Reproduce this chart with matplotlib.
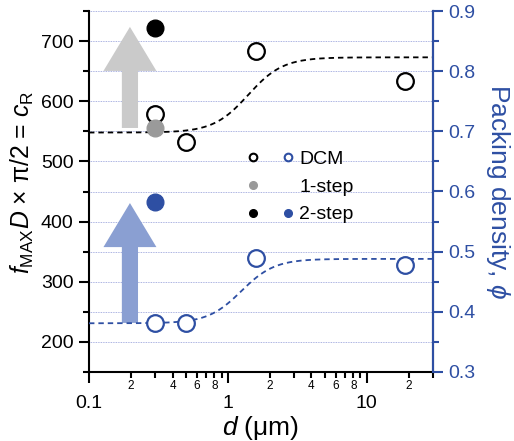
import numpy as np
import matplotlib
matplotlib.use("Agg")
import matplotlib.pyplot as plt
from matplotlib.lines import Line2D
from matplotlib.legend_handler import HandlerTuple
from matplotlib.patches import FancyArrow
from matplotlib.ticker import FixedLocator, MultipleLocator, FuncFormatter, LogLocator

plt.rcParams["font.family"] = ["Liberation Sans", "DejaVu Sans"]
plt.rcParams["mathtext.fontset"] = "custom"
plt.rcParams["mathtext.rm"] = "Liberation Sans"
plt.rcParams["mathtext.it"] = "Liberation Sans:italic"

BLUE = "#2e4fa3"
GRAY = "#9a9a9a"

# data
d_dcm = [0.3, 0.5, 1.6, 19]
cr_dcm = [578, 532, 683, 633]
phi_dcm = [0.382, 0.382, 0.49, 0.478]
d_step = [0.3]
cr_1step = [555]
cr_2step = [722]
phi_2step = [0.582]

# sigmoid fits in log10(d): low, high, centre (um), width (decades)
fit_cr = (548, 673, 1.4, 0.125)
fit_phi = (0.381, 0.488, 1.25, 0.12)


def sigmoid(d, low, high, centre, width):
    return low + (high - low) / (1 + np.exp(-(np.log10(d) - np.log10(centre)) / width))


fig = plt.figure(figsize=(5.14, 4.41), dpi=100)
ax = fig.add_axes([89 / 514, 1 - 372 / 441, 344 / 514, 361 / 441])
ax2 = ax.twinx()

ax.set_xscale("log")
ax.set_xlim(0.1, 30)
ax.set_ylim(150, 750)
ax2.set_ylim(0.3, 0.9)

# grid on left axis
ax.yaxis.set_major_locator(MultipleLocator(100))
ax.yaxis.set_minor_locator(MultipleLocator(50))
for v in np.arange(200, 751, 50):
    ax.axhline(v, color="#8f9ad8", lw=0.6, ls=(0, (1, 1)), zorder=0)

# arrows (axes fraction)
ax.add_patch(FancyArrow(0.119, 0.676, 0, 0.28, width=0.047, head_width=0.154,
                        head_length=0.122, length_includes_head=True,
                        color="#cacaca", lw=0, transform=ax.transAxes, zorder=1))
ax.add_patch(FancyArrow(0.119, 0.136, 0, 0.332, width=0.047, head_width=0.154,
                        head_length=0.122, length_includes_head=True,
                        color="#8a9fd2", lw=0, transform=ax.transAxes, zorder=1))

xs = np.logspace(-1, np.log10(30), 300)
ax.plot(xs, sigmoid(xs, *fit_cr), color="black", lw=1.3, ls=(0, (3, 2.2)), zorder=2)
ax2.plot(xs, sigmoid(xs, *fit_phi), color=BLUE, lw=1.3, ls=(0, (3, 2.2)), zorder=2)

ms = 12
ax.plot(d_dcm, cr_dcm, "o", ms=ms, mfc="white", mec="black", mew=1.6, zorder=3)
ax.plot(d_step, cr_1step, "o", ms=ms, color=GRAY, zorder=4)
ax.plot(d_step, cr_2step, "o", ms=ms, color="black", zorder=4)
ax2.plot(d_dcm, phi_dcm, "o", ms=ms, mfc="white", mec=BLUE, mew=1.6, zorder=3)
ax2.plot(d_step, phi_2step, "o", ms=ms, color=BLUE, zorder=4)

# x ticks
ax.xaxis.set_major_locator(FixedLocator([0.1, 1, 10]))
ax.xaxis.set_minor_locator(LogLocator(base=10, subs=np.arange(2, 10)))
ax.xaxis.set_major_formatter(FuncFormatter(lambda v, p: f"{v:g}"))


def minor_label(v, pos):
    m = int(round(v / 10 ** np.floor(np.log10(v) + 1e-9)))
    return str(m) if m in (2, 4, 6, 8) else ""


ax.xaxis.set_minor_formatter(FuncFormatter(minor_label))
ax.tick_params(axis="x", which="major", length=8, width=1.5, pad=8.5, labelsize=14)
ax.tick_params(axis="x", which="minor", length=4.5, width=1.5, pad=1, labelsize=8.5)
ax.tick_params(axis="y", which="major", length=7, width=1.5, pad=4, labelsize=14)
ax.tick_params(axis="y", which="minor", length=4.5, width=1.5)

ax2.yaxis.set_major_locator(MultipleLocator(0.1))
ax2.yaxis.set_minor_locator(MultipleLocator(0.05))
ax2.yaxis.set_major_formatter(FuncFormatter(lambda v, p: f"{v:.1f}"))
ax2.tick_params(axis="y", which="major", length=7, width=1.5, pad=4, labelsize=14,
                color=BLUE, labelcolor=BLUE)
ax2.tick_params(axis="y", which="minor", length=4.5, width=1.5, color=BLUE)

for a in (ax, ax2):
    a.spines["top"].set_visible(False)
    for s in a.spines.values():
        s.set_linewidth(1.5)
ax2.spines["right"].set_color(BLUE)
ax2.spines["left"].set_visible(False)
ax2.spines["bottom"].set_visible(False)

ax.set_xlabel("$d$ (μm)", fontsize=19, va="center")
ax.xaxis.set_label_coords(0.5, -0.155)
ax.set_ylabel(r"$f_{\rm MAX}D$ × π/2 = $c_{\rm R}$", fontsize=17.8, va="center")
ax.yaxis.set_label_coords(-0.194, 0.524)
ax2.set_ylabel(r"Packing density, $\phi$", fontsize=19, color=BLUE,
               rotation=270, va="center")
ax2.yaxis.set_label_coords(1.189, 0.5)

# legend: two marker columns
lms = 5.5
h_dcm = (Line2D([], [], ls="", marker="o", ms=lms, mfc="white", mec="black", mew=1.5),
         Line2D([], [], ls="", marker="o", ms=lms, mfc="white", mec=BLUE, mew=1.5))
h_1 = (Line2D([], [], ls="", marker="o", ms=lms, color=GRAY),
       Line2D([], [], ls="", marker=""))
h_2 = (Line2D([], [], ls="", marker="o", ms=lms, color="black"),
       Line2D([], [], ls="", marker="o", ms=lms, color=BLUE))
ax.legend([h_dcm, h_1, h_2], ["DCM", "1-step", "2-step"],
          handler_map={tuple: HandlerTuple(ndivide=None, pad=1.2)},
          loc="upper left", bbox_to_anchor=((247 - 89) / 344, (372 - 150) / 361),
          frameon=False, fontsize=14, handlelength=2.4, handletextpad=0.3,
          labelspacing=0.53, borderpad=0, borderaxespad=0)

fig.savefig("out.png", dpi=100)
